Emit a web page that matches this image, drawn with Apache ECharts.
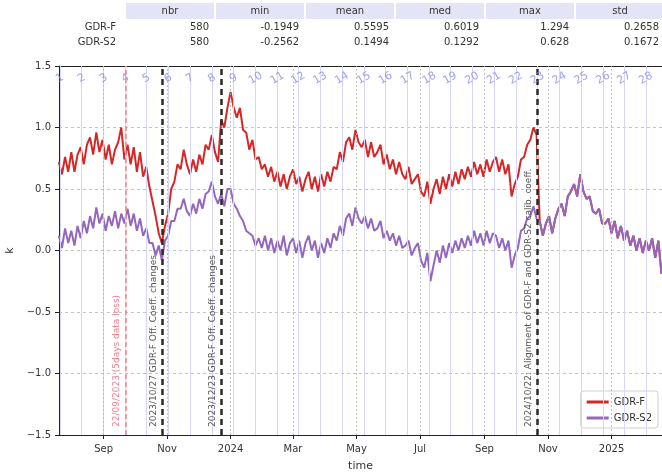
<!DOCTYPE html>
<html><head><meta charset="utf-8">
<script src="https://cdn.jsdelivr.net/npm/echarts@6/dist/echarts.min.js"></script>
<style>html,body{margin:0;padding:0;background:#fff}#c{width:662px;height:474px}</style>
</head><body><div id="c"></div>
<script>
// ---------------- data ----------------
const sampleStart = [2023, 7, 20];   // first sample date (y, m, d)
const sampleStepDays = 3;            // one value read every 3 days
// GDR-F until the 2024/10/22 alignment (afterwards identical to GDR-S2)
const gdrF = [0.72,0.62,0.76,0.64,0.80, 0.64,0.78,0.84,0.70,0.86, 0.92,0.78,0.96,0.80,0.90, 0.74,0.86,0.70,0.82,0.88,
  1.00,0.74,0.86,0.70,0.84, 0.64,0.80,0.60,0.68,0.52, 0.40,0.28,0.14,0.06,0.20, 0.30,0.50,0.56,0.70,0.66,
  0.82,0.70,0.62,0.74,0.64, 0.78,0.70,0.86,0.82,0.94, 0.80,0.72,1.06,1.00,1.16, 1.29,1.16,1.08,1.16,0.98,
  0.96,0.82,0.90,0.74,0.76, 0.66,0.70,0.60,0.68,0.56, 0.64,0.52,0.62,0.50,0.60, 0.66,0.54,0.60,0.48,0.58,
  0.64,0.50,0.60,0.48,0.62, 0.52,0.64,0.56,0.68,0.66, 0.80,0.72,0.88,0.92,0.82, 0.98,0.88,0.84,0.90,0.76,
  0.88,0.76,0.80,0.86,0.70, 0.78,0.66,0.74,0.62,0.72, 0.62,0.58,0.68,0.54,0.58, 0.62,0.48,0.44,0.56,0.38,
  0.50,0.58,0.46,0.60,0.50, 0.62,0.52,0.64,0.54,0.66, 0.58,0.68,0.60,0.72,0.62, 0.70,0.60,0.74,0.64,0.72,
  0.76,0.64,0.74,0.62,0.70, 0.44,0.54,0.60,0.74,0.76, 0.86,0.90,1.00,0.94];
const gdrS2 = [0.12,0.02,0.18,0.06,0.16, 0.04,0.20,0.10,0.24,0.14, 0.28,0.18,0.35,0.22,0.30, 0.16,0.28,0.20,0.32,0.18,
  0.30,0.22,0.34,0.20,0.30, 0.16,0.26,0.12,0.18,0.06, 0.06,-0.04,0.04,-0.08,0.08, 0.12,0.24,0.24,0.34,0.34,
  0.42,0.32,0.28,0.38,0.30, 0.42,0.34,0.46,0.48,0.56, 0.44,0.38,0.46,0.36,0.50, 0.50,0.38,0.34,0.28,0.24,
  0.16,0.14,0.12,0.04,0.10, 0.02,0.12,0.00,0.10,-0.02, 0.08,0.00,0.12,-0.04,0.06, 0.10,-0.02,0.08,-0.06,0.06,
  0.12,0.00,0.08,-0.06,0.06, -0.02,0.10,0.02,0.14,0.08, 0.20,0.12,0.26,0.30,0.20, 0.35,0.26,0.22,0.28,0.18,
  0.26,0.16,0.18,0.24,0.10, 0.16,0.08,0.14,0.04,0.12, 0.02,0.04,0.08,-0.04,0.02, 0.06,-0.08,-0.14,-0.02,-0.25,
  -0.12,0.00,-0.10,0.04,-0.06, 0.06,-0.02,0.08,0.00,0.10, 0.02,0.12,0.04,0.16,0.06, 0.14,0.04,0.16,0.06,0.14,
  0.12,0.02,0.10,0.00,0.08, -0.14,-0.04,0.02,0.16,0.18, 0.26,0.28,0.36,0.26,0.24, 0.12,0.22,0.28,0.14,0.26,
  0.34,0.38,0.28,0.44,0.48, 0.54,0.44,0.62,0.48,0.42, 0.44,0.32,0.30,0.34,0.22, 0.22,0.26,0.14,0.24,0.10,
  0.20,0.08,0.16,0.04,0.12, 0.00,0.10,-0.02,0.08,0.00, 0.10,-0.06,0.08,-0.19];

const axisStart = '2023-07-20T04';
const axisEnd = '2025-02-18T12';
const tickDates = ['2023-09-01','2023-11-01','2024-01-01','2024-03-01','2024-05-01','2024-07-01','2024-09-01','2024-11-01','2025-01-01'];
const tickLabels = ['Sep','Nov','2024','Mar','May','Jul','Sep','Nov','2025'];

const cycleNumbers = [1,2,3,4,5,6,7,8,9,10,11,12,13,14,15,16,17,18,19,20,21,22,23,24,25,26,27,28];
const cycleStarts = ['2023-07-21','2023-08-11','2023-09-01','2023-09-22','2023-10-12','2023-11-02','2023-11-23','2023-12-14',
  '2024-01-04','2024-01-25','2024-02-15','2024-03-06','2024-03-27','2024-04-17','2024-05-08','2024-05-29','2024-06-19',
  '2024-07-10','2024-07-30','2024-08-20','2024-09-10','2024-10-01','2024-10-22','2024-11-12','2024-12-03','2024-12-24',
  '2025-01-13','2025-02-03'];

const eventDates = ['2023-09-22','2023-10-27','2023-12-23','2024-10-22'];
const eventTexts = ['22/09/2023 (5days data loss)','2023/10/27 GDR-F Off. Coeff. changes',
  '2023/12/23 GDR-F Off. Coeff. changes','2024/10/22: Alignment of GDR-F and GDR-S2 calib. coeff.'];
const eventKinds = ['loss','change','change','change'];

const statColumns = ['nbr','min','mean','med','max','std'];
const statRowNames = ['GDR-F','GDR-S2'];
const statGdrF = ['580','-0.1949','0.5595','0.6019','1.294','0.2658'];
const statGdrS2 = ['580','-0.2562','0.1494','0.1292','0.628','0.1672'];

// ---------------- helpers ----------------
function ts(s){
  const [d,t] = s.split('T');
  const [y,m,dd] = d.split('-').map(Number);
  return new Date(y, m-1, dd, t ? Number(t) : 0).getTime();
}
function sampleTs(i){ return new Date(sampleStart[0], sampleStart[1]-1, sampleStart[2] + sampleStepDays*i).getTime(); }
const fullF = gdrF.concat(gdrS2.slice(gdrF.length));
const redData = fullF.map((v,i)=>[sampleTs(i), v]);
const purpleData = gdrS2.map((v,i)=>[sampleTs(i), v]);
const tickTs = tickDates.map(ts);

const FONT = 'DejaVu Sans';
const minus = v => String(v).replace('-', '\u2212');

// table graphic
const tableEls = [];
const colX0 = 126, colW = 90, cellW = 88;
statColumns.forEach((c,k)=>{
  tableEls.push({type:'rect', shape:{x:colX0+colW*k, y:3, width:cellW, height:16}, style:{fill:'#e4e4f7'}});
  tableEls.push({type:'text', x:colX0+colW*k+cellW/2, y:11, style:{text:c, fontFamily:FONT, fontSize:10, fill:'#333', align:'center', verticalAlign:'middle'}});
});
[statGdrF, statGdrS2].forEach((row,r)=>{
  const y = 27 + r*15;
  tableEls.push({type:'text', x:116, y:y, style:{text:statRowNames[r], fontFamily:FONT, fontSize:10, fill:'#333', align:'right', verticalAlign:'middle'}});
  row.forEach((v,k)=>{
    tableEls.push({type:'text', x:colX0+colW*k+cellW-5, y:y, style:{text:v, fontFamily:FONT, fontSize:10, fill:'#333', align:'right', verticalAlign:'middle'}});
  });
});

const chart = echarts.init(document.getElementById('c'), null, {renderer:'canvas'});
chart.setOption({
  animation:false,
  backgroundColor:'#fff',
  textStyle:{fontFamily:FONT},
  grid:{left:59, right:0, top:66, bottom:39, containLabel:false, outerBoundsMode:'none'},
  legend:{
    data:['GDR-F','GDR-S2'], orient:'vertical', right:4, bottom:46,
    icon:'rect', itemWidth:22, itemHeight:3, itemGap:6,
    textStyle:{fontFamily:FONT, fontSize:10, color:'#333'},
    borderColor:'#d0d0d0', borderWidth:1, borderRadius:3, padding:[6,6,5,6],
    backgroundColor:'rgba(255,255,255,0.85)'
  },
  xAxis:[{
    type:'value', min:ts(axisStart), max:ts(axisEnd), scale:true,
    name:'time', nameLocation:'middle', nameGap:26,
    nameTextStyle:{fontFamily:FONT, fontSize:11, color:'#333'},
    axisLine:{onZero:false, lineStyle:{color:'#222', width:1}},
    axisTick:{show:true, length:4, customValues:tickTs, lineStyle:{color:'#222'}},
    axisLabel:{customValues:tickTs, fontFamily:FONT, fontSize:10, color:'#333', margin:9,
      formatter:function(v){ const i = tickTs.indexOf(v); return i>=0 ? tickLabels[i] : ''; }},
    splitLine:{show:false}
  },{
    type:'value', position:'top', min:ts(axisStart), max:ts(axisEnd), scale:true,
    axisLine:{show:true, onZero:false, lineStyle:{color:'#222', width:1}},
    axisTick:{show:false}, axisLabel:{show:false}, splitLine:{show:false}
  }],
  yAxis:{
    type:'value', min:-1.5, max:1.5, interval:0.5,
    name:'k', nameLocation:'middle', nameGap:42, nameRotate:90,
    nameTextStyle:{fontFamily:FONT, fontSize:11, color:'#333'},
    axisLine:{show:true, onZero:false, lineStyle:{color:'#222', width:1}},
    axisTick:{show:true, length:4, lineStyle:{color:'#222'}},
    axisLabel:{fontFamily:FONT, fontSize:10, color:'#333', margin:8,
      formatter:function(v){ return minus(v.toFixed(1)); }},
    splitLine:{show:true, lineStyle:{color:'#b4b4b4', width:0.8, type:[3,3]}}
  },
  graphic:tableEls,
  series:[
    { // month grid + cycle boundary lines
      type:'line', data:[], z:1, silent:true,
      markLine:{silent:true, symbol:['none','none'], label:{show:false}, animation:false,
        data: cycleStarts.map(d=>({xAxis:ts(d), lineStyle:{color:'#d6d6fa', width:1, type:'solid'}}))
          .concat(tickTs.map(t=>({xAxis:t, lineStyle:{color:'#b4b4b4', width:0.8, type:[2,2]}})))}
    },
    { name:'GDR-F', type:'line', data:redData, showSymbol:false, symbol:'none', z:2,
      lineStyle:{color:'#d62728', width:2}, itemStyle:{color:'#d62728'} },
    { name:'GDR-S2', type:'line', data:purpleData, showSymbol:false, symbol:'none', z:3,
      lineStyle:{color:'#9467bd', width:2}, itemStyle:{color:'#9467bd'} },
    { // event lines with annotations
      type:'line', data:[], z:4, silent:true,
      markLine:{silent:true, symbol:['none','none'], animation:false,
        data: eventDates.map((d,i)=>{
          const loss = eventKinds[i]==='loss';
          return {xAxis:ts(d),
            lineStyle:loss ? {color:'#f2808c', width:1.5, type:[5,3]} : {color:'#2a2a2a', width:2.5, type:[6,4]},
            label:{show:true, formatter:eventTexts[i], position:'insideStartTop', distance:[8,4],
              fontFamily:FONT, fontSize:9, color: loss ? '#f08090' : '#555'}};
        })}
    },
    { // cycle numbers
      type:'scatter', symbol:'circle', symbolSize:1, z:5, silent:true,
      itemStyle:{color:'rgba(0,0,0,0)'},
      data: cycleStarts.map((d,i)=>({value:[ts(d), 1.4], name:String(cycleNumbers[i])})),
      label:{show:true, position:'inside', formatter:p=>p.name, rotate:30,
        fontFamily:FONT, fontSize:11, color:'#8a8aea'}
    }
  ]
});
</script>
</body></html>
